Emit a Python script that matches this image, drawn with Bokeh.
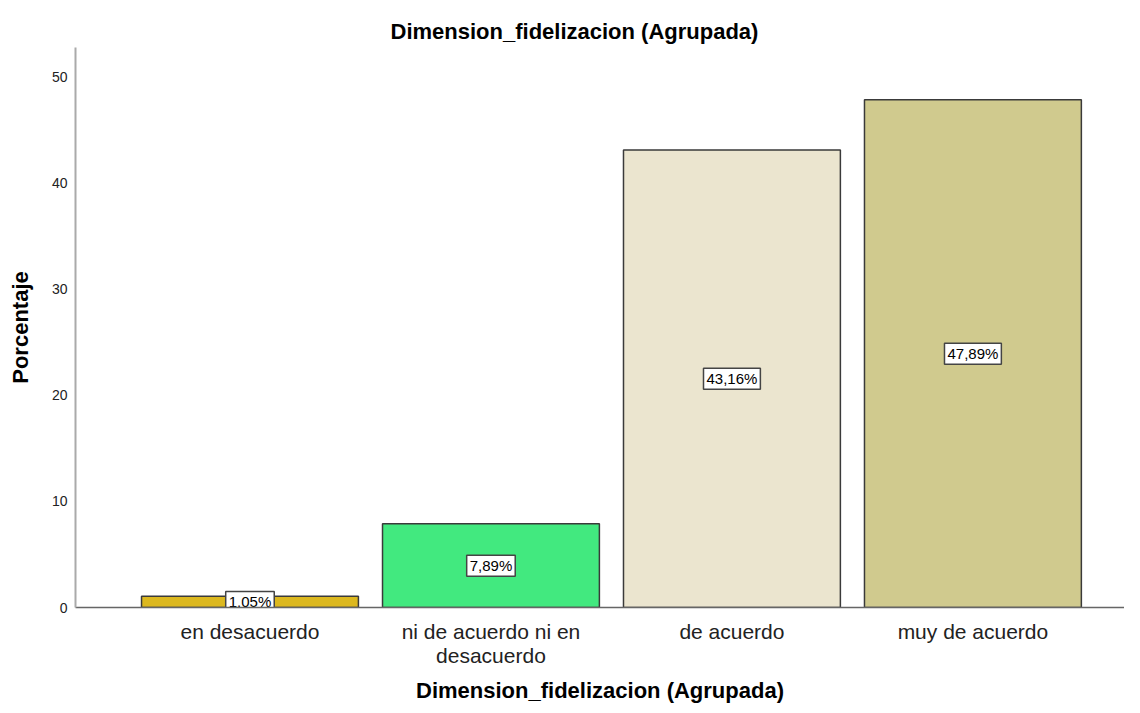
from bokeh.plotting import figure
from bokeh.models import Range1d, ColumnDataSource, Title, FixedTicker
from bokeh.core.properties import value
from bokeh.embed import file_html
from bokeh.resources import INLINE

categories = ["en desacuerdo", "ni de acuerdo ni en\ndesacuerdo", "de acuerdo", "muy de acuerdo"]
values = [1.05, 7.89, 43.16, 47.89]
labels = ["1,05%", "7,89%", "43,16%", "47,89%"]
colors = ["#dcb81f", "#42e97f", "#ebe5cf", "#d0ca8e"]
y_ticks = [0, 10, 20, 30, 40, 50]
title_text = "Dimension_fidelizacion (Agrupada)"
x_title = "Dimension_fidelizacion (Agrupada)"
y_title = "Porcentaje"

FONT = "Liberation Sans"
xs = list(range(len(categories)))

src = ColumnDataSource(dict(x=xs, top=values, mid=[v / 2 for v in values],
                            label=labels, color=colors))

p = figure(width=1124, height=705, output_backend="svg", toolbar_location=None,
           x_range=Range1d(-0.724, 3.629), y_range=Range1d(0, 52.83),
           min_border_left=75, min_border_right=0, min_border_top=47, min_border_bottom=98)

p.title = Title(text=title_text, align="left", offset=315, standoff=8,
                text_font=FONT, text_font_size="22px", text_font_style="bold",
                text_color="#000000")

p.vbar(x="x", top="top", bottom=0, width=0.9, source=src, fill_color="color",
       line_color="#3a3a3a", line_width=1.5)

p.text(x="x", y="mid", text="label", source=src, text_align="center",
       text_baseline="middle", text_font=value(FONT), text_font_size=value("15px"),
       text_color="#000000", background_fill_color="white",
       border_line_color="#444444", border_line_width=1.5,
       padding=dict(left=3, right=3, top=2, bottom=2))

p.xgrid.visible = False
p.ygrid.visible = False
p.outline_line_color = None

p.xaxis.ticker = FixedTicker(ticks=xs)
p.xaxis.major_label_overrides = {i: c for i, c in zip(xs, categories)}
p.xaxis.major_label_text_font = FONT
p.xaxis.major_label_text_font_size = "21px"
p.xaxis.major_label_text_line_height = 1.05
p.xaxis.major_label_text_color = "#222222"
p.xaxis.major_tick_line_color = None
p.xaxis.major_tick_out = 0
p.xaxis.major_tick_in = 0
p.xaxis.minor_tick_line_color = None
p.xaxis.axis_line_color = "#666666"
p.xaxis.axis_line_width = 1.5
p.xaxis.major_label_standoff = 12
p.xaxis.axis_label = x_title
p.xaxis.axis_label_text_font = FONT
p.xaxis.axis_label_text_font_size = "22px"
p.xaxis.axis_label_text_font_style = "bold"
p.xaxis.axis_label_text_color = "#000000"
p.xaxis.axis_label_standoff = 8

p.yaxis.ticker = FixedTicker(ticks=y_ticks)
p.yaxis.major_label_text_font = FONT
p.yaxis.major_label_text_font_size = "14px"
p.yaxis.major_label_text_color = "#222222"
p.yaxis.major_tick_line_color = None
p.yaxis.major_tick_out = 0
p.yaxis.major_tick_in = 0
p.yaxis.minor_tick_line_color = None
p.yaxis.axis_line_color = "#aaaaaa"
p.yaxis.axis_line_width = 2
p.yaxis.major_label_standoff = 8
p.yaxis.axis_label = y_title
p.yaxis.axis_label_text_font = FONT
p.yaxis.axis_label_text_font_size = "22px"
p.yaxis.axis_label_text_font_style = "bold"
p.yaxis.axis_label_text_color = "#000000"
p.yaxis.axis_label_standoff = 16

open("out.html", "w").write(file_html(p, INLINE))
